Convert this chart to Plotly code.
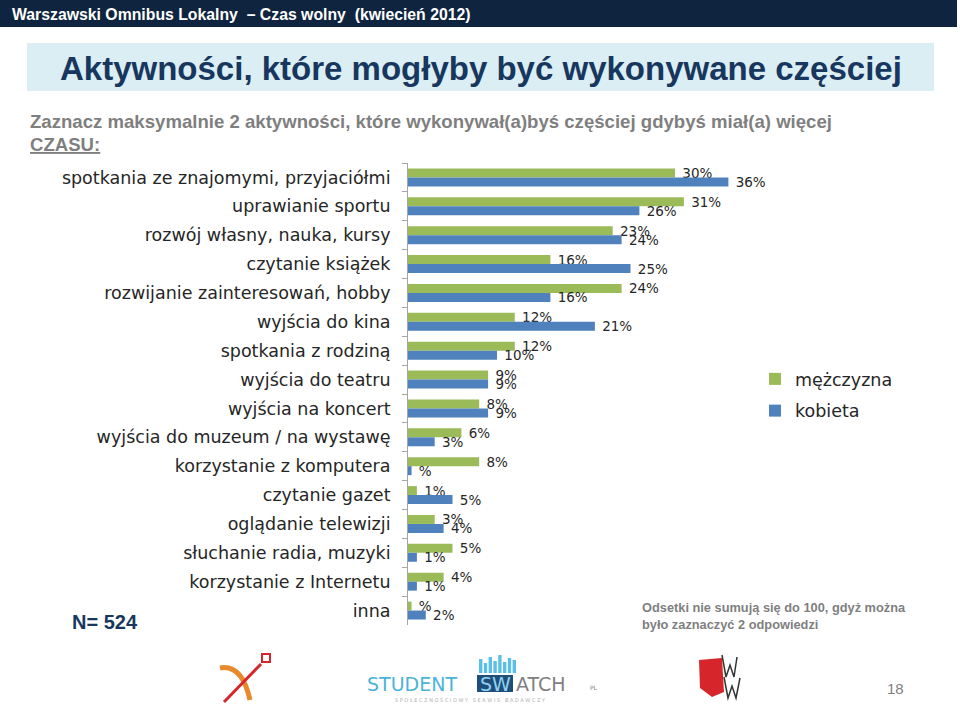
import plotly.graph_objects as go

# ---------------- data ----------------
categories = [
    "spotkania ze znajomymi, przyjaciółmi",
    "uprawianie sportu",
    "rozwój własny, nauka, kursy",
    "czytanie książek",
    "rozwijanie zainteresowań, hobby",
    "wyjścia do kina",
    "spotkania z rodziną",
    "wyjścia do teatru",
    "wyjścia na koncert",
    "wyjścia do muzeum / na wystawę",
    "korzystanie z komputera",
    "czytanie gazet",
    "oglądanie telewizji",
    "słuchanie radia, muzyki",
    "korzystanie z Internetu",
    "inna",
]
men = [30, 31, 23, 16, 24, 12, 12, 9, 8, 6, 8, 1, 3, 5, 4, 0.4]
women = [36, 26, 24, 25, 16, 21, 10, 9, 9, 3, 0.4, 5, 4, 1, 1, 2]
series_names = ["mężczyzna", "kobieta"]


def pct(v):
    r = round(v)
    return "\u00a0" + (f"{r}%" if r else "%")


GREEN = "#9BBB59"
BLUE = "#4F81BD"
NAVY = "#17375E"
GRAY = "#7F7F7F"
TXT = "#262626"

# plot area in pixels
L, R, T, B = 408, 764, 163, 625
W, H = 960, 707


def px(x):
    return (x - L) / (R - L)


def py(y):
    return (B - y) / (B - T)


fig = go.Figure()
for name, vals, col in [(series_names[0], men, GREEN), (series_names[1], women, BLUE)]:
    fig.add_trace(go.Bar(
        y=categories, x=vals, name=name, orientation="h",
        marker=dict(color=col, line=dict(width=0)),
        text=[pct(v) for v in vals], textposition="outside",
        constraintext="none", cliponaxis=False,
        textfont=dict(family="DejaVu Sans", size=13.5, color=TXT),
        legendgroup=name, hoverinfo="skip",
    ))

fig.update_layout(
    width=W, height=H,
    margin=dict(l=L, r=W - R, t=T, b=H - B, pad=0, autoexpand=False),
    paper_bgcolor="white", plot_bgcolor="white",
    barmode="group", bargap=0.38, bargroupgap=0,
    showlegend=True,
    legend=dict(
        x=px(755), y=py(361), xanchor="left", yanchor="top",
        font=dict(family="DejaVu Sans", size=17.5, color=TXT),
        traceorder="grouped", tracegroupgap=6,
        bgcolor="rgba(0,0,0,0)",
    ),
    xaxis=dict(range=[0, 40], visible=False, showgrid=False, zeroline=False,
               automargin=False),
    yaxis=dict(
        autorange="reversed", showline=True, linecolor="#A6A6A6", linewidth=1,
        ticks="outside", ticklen=5, tickcolor="#A6A6A6", tickson="boundaries",
        ticklabelstandoff=13, automargin=False,
        tickfont=dict(family="DejaVu Sans", size=17.5, color=TXT),
        showgrid=False, zeroline=False,
    ),
    font=dict(family="Liberation Sans"),
)

shapes = []
ann = []

# header band
shapes.append(dict(type="rect", xref="paper", yref="paper",
                   x0=px(0), x1=px(957), y0=py(27), y1=py(0),
                   fillcolor="#0F243E", line=dict(width=0), layer="below"))
ann.append(dict(text="<b>Warszawski Omnibus Lokalny  – Czas wolny  (kwiecień 2012)</b>",
                x=px(10), y=py(14), xanchor="left", yanchor="middle",
                font=dict(family="Liberation Sans", size=15.8, color="white")))

# title box
shapes.append(dict(type="rect", xref="paper", yref="paper",
                   x0=px(27), x1=px(934), y0=py(91), y1=py(43),
                   fillcolor="#DBEEF4", line=dict(width=0), layer="below"))
ann.append(dict(text="<b>Aktywności, które mogłyby być wykonywane częściej</b>",
                x=px(481), y=py(68), xanchor="center", yanchor="middle",
                font=dict(family="Liberation Sans", size=33, color=NAVY)))

# question
ann.append(dict(text="<b>Zaznacz maksymalnie 2 aktywności, które wykonywał(a)byś częściej gdybyś miał(a) więcej</b>",
                x=px(28), y=py(121), xanchor="left", yanchor="middle",
                font=dict(family="Liberation Sans", size=18.6, color=GRAY)))
ann.append(dict(text="<b><u>CZASU:</u></b>",
                x=px(28), y=py(144), xanchor="left", yanchor="middle",
                font=dict(family="Liberation Sans", size=18.6, color=GRAY)))

# N
ann.append(dict(text="<b>N= 524</b>", x=px(70), y=py(622), xanchor="left", yanchor="middle",
                font=dict(family="Liberation Sans", size=20, color=NAVY)))

# footnote
ann.append(dict(text="<b>Odsetki nie sumują się do 100, gdyż można<br>było zaznaczyć 2 odpowiedzi</b>",
                x=px(640), y=py(616), xanchor="left", yanchor="middle", align="left",
                font=dict(family="Liberation Sans", size=12.8, color=GRAY)))

# page number
ann.append(dict(text="18", x=px(895), y=py(688), xanchor="center", yanchor="middle",
                font=dict(family="Liberation Sans", size=15, color=GRAY)))


def path(points, close=False):
    s = "M " + " L ".join(f"{px(x):.5f},{py(y):.5f}" for x, y in points)
    return s + (" Z" if close else "")


# left logo (chi-like mark)
shapes.append(dict(type="path", xref="paper", yref="paper",
                   path=f"M {px(220):.5f},{py(668):.5f} Q {px(242):.5f},{py(664):.5f} {px(250):.5f},{py(700):.5f}",
                   line=dict(color="#E8892B", width=5)))
shapes.append(dict(type="line", xref="paper", yref="paper",
                   x0=px(224), y0=py(702), x1=px(261), y1=py(664),
                   line=dict(color="#D7262B", width=3)))
shapes.append(dict(type="rect", xref="paper", yref="paper",
                   x0=px(262), x1=px(270), y0=py(662), y1=py(654),
                   line=dict(color="#D7262B", width=2)))

# studentswatch logo
for i, hgt in enumerate([14, 10, 16, 12, 18, 11, 15, 13]):
    xx = 479 + i * 4.8
    shapes.append(dict(type="rect", xref="paper", yref="paper",
                       x0=px(xx), x1=px(xx + 3.4), y0=py(673), y1=py(673 - hgt),
                       fillcolor="#5BC0E8", line=dict(width=0)))
shapes.append(dict(type="rect", xref="paper", yref="paper",
                   x0=px(477), x1=px(513), y0=py(692), y1=py(675),
                   fillcolor="#1F4E79", line=dict(width=0)))
ann.append(dict(text="STUDENT", x=px(365), y=py(684), xanchor="left", yanchor="middle",
                font=dict(family="DejaVu Sans", size=19, color="#4BB3D9")))
ann.append(dict(text="SW", x=px(495), y=py(684), xanchor="center", yanchor="middle",
                font=dict(family="DejaVu Sans", size=19, color="#8FD3F0")))
ann.append(dict(text="ATCH", x=px(514), y=py(684), xanchor="left", yanchor="middle",
                font=dict(family="DejaVu Sans", size=19, color="#808080")))
ann.append(dict(text="PL", x=px(588), y=py(687), xanchor="left", yanchor="middle",
                font=dict(family="DejaVu Sans", size=6, color="#808080")))
ann.append(dict(text="S P O Ł E C Z N O Ś C I O W Y   S E R W I S   B A D A W C Z Y",
                x=px(470), y=py(700), xanchor="center", yanchor="middle",
                font=dict(family="DejaVu Sans", size=5, color="#B0B0B0")))

# right logo (red shield with W)
shapes.append(dict(type="path", xref="paper", yref="paper",
                   path=path([(699, 660), (722, 658), (724, 692), (712, 697), (700, 688)], close=True),
                   fillcolor="#D7262B", line=dict(width=0)))
shapes.append(dict(type="path", xref="paper", yref="paper",
                   path=path([(722, 655), (726, 677), (730, 665), (734, 677), (737, 657)]),
                   line=dict(color="#333333", width=1.5)))
shapes.append(dict(type="path", xref="paper", yref="paper",
                   path=path([(724, 677), (728, 698), (732, 686), (736, 698), (740, 678)]),
                   line=dict(color="#333333", width=1.5)))

for a in ann:
    a.setdefault("xref", "paper")
    a.setdefault("yref", "paper")
    a.setdefault("showarrow", False)

fig.update_layout(shapes=shapes, annotations=ann)

fig.write_html("out.html",
               config={"displayModeBar": False},
               post_script="document.body.style.margin='0';document.body.style.overflow='hidden';")
